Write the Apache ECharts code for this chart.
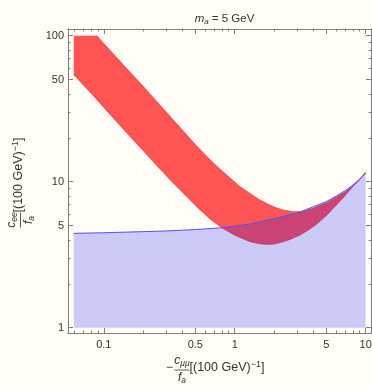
<!DOCTYPE html>
<html>
<head>
<meta charset="utf-8">
<script src="https://cdn.jsdelivr.net/npm/echarts@6/dist/echarts.min.js"></script>
<style>
html,body{margin:0;padding:0;background:#fffdf6;}
#chart{width:372px;height:387px;}
</style>
</head>
<body>
<div id="chart"></div>
<script>
// ---- data (real values, plotted on log10 scales) ----
const bandUpperX = [0.059, 0.0885, 0.1, 0.12, 0.15, 0.2, 0.25, 0.3, 0.4, 0.5, 0.6, 0.73, 0.9, 1.1, 1.31, 1.56, 1.86, 2.1, 2.35, 2.8, 3.34, 4, 5, 6, 7, 8, 9, 10];
const bandUpperY = [100, 100, 88.5, 74, 59.5, 45, 36, 30, 22.5, 18.0, 15.2, 12.75, 10.8, 9.25, 8.32, 7.5, 6.92, 6.6, 6.39, 6.23, 6.25, 6.6, 7.15, 7.85, 8.55, 9.35, 10.3, 11.7];
const bandLowerX = [0.059, 0.08, 0.1, 0.143, 0.2, 0.25, 0.321, 0.406, 0.513, 0.648, 0.796, 1.0, 1.31, 1.55, 1.75, 2.0, 2.35, 2.7, 3.15, 3.7, 4.23, 5.0, 5.66, 6.5, 7.59, 8.7, 10];
const bandLowerY = [54, 40.4, 32.3, 22.6, 16.3, 13.1, 10.3, 8.33, 6.75, 5.55, 4.84, 4.30, 3.88, 3.76, 3.72, 3.74, 3.88, 4.05, 4.31, 4.7, 5.13, 5.85, 6.58, 7.5, 8.77, 10.1, 11.5];
const boundaryX = [0.059, 0.1, 0.2, 0.3, 0.5, 0.8, 1, 1.3, 1.7, 2.3, 3, 4, 5, 6, 7, 8, 9, 10];
const boundaryY = [4.43, 4.47, 4.55, 4.6, 4.7, 4.84, 4.95, 5.12, 5.4, 5.75, 6.1, 6.75, 7.3, 8.0, 8.7, 9.5, 10.4, 11.4];
const regionFloor = 1;
const xTickLabels = [0.1, 0.5, 1, 5, 10];
const xMinorTicks = [0.06, 0.07, 0.08, 0.09, 0.2, 0.3, 0.4, 0.6, 0.7, 0.8, 0.9, 2, 3, 4, 6, 7, 8, 9];
const yTickLabels = [1, 5, 10, 50, 100];
const yMinorTicks = [2, 3, 4, 6, 7, 8, 9, 20, 30, 40, 60, 70, 80, 90];
const xRange = [0.0533, 10.99];
const yRange = [0.92, 111.2];

const L = Math.log10;
const FONT = '"Liberation Sans", Arial, Helvetica, sans-serif';
const FRAME = '#7f7f7f';
const TEXT = '#333333';

function fmt(v) { return String(+Math.pow(10, v).toPrecision(3)); }

function mkAxis(dim, pos, values, major, showLabel) {
  const range = dim === 'x' ? xRange : yRange;
  return {
    type: 'value', position: pos, gridIndex: 0,
    min: L(range[0]), max: L(range[1]),
    splitLine: { show: false },
    axisLine: { show: true, onZero: false, lineStyle: { color: FRAME, width: 1 } },
    axisTick: { show: true, inside: true, length: major ? 5 : 2.5,
      customValues: values.map(L), lineStyle: { color: FRAME, width: 1 } },
    axisLabel: { show: showLabel, customValues: values.map(L), formatter: fmt,
      color: TEXT, fontSize: 11, fontFamily: FONT, margin: dim === 'x' ? 6 : 4 }
  };
}

const pts = (api, xs, ys) => xs.map((x, i) => api.coord([L(x), L(ys[i])]));

const richG = {
  v: { fontSize: 12, fontStyle: 'italic', fontFamily: FONT, fill: TEXT, verticalAlign: 'middle', lineHeight: 15 },
  s: { fontSize: 8.5, fontStyle: 'italic', fontFamily: FONT, fill: TEXT, verticalAlign: 'bottom', lineHeight: 15 },
  n: { fontSize: 12.5, fontFamily: FONT, fill: TEXT, verticalAlign: 'middle', lineHeight: 15 },
  sup: { fontSize: 9, fontFamily: FONT, fill: TEXT, verticalAlign: 'top', lineHeight: 15 }
};

function fracLabel(cx, cy, rot, num, numSub, den, denSub, prefix) {
  const children = [
    { type: 'line', shape: { x1: -7.5, y1: 0, x2: 7.5, y2: 0 }, style: { stroke: TEXT, lineWidth: 0.8 } },
    { type: 'text', style: { x: 0, y: -1.5, text: '{v|' + num + '}{s|' + numSub + '}', rich: richG,
        align: 'center', verticalAlign: 'bottom', fill: TEXT, fontFamily: FONT } },
    { type: 'text', style: { x: 0, y: 0.5, text: '{v|' + den + '}{s|' + denSub + '}', rich: richG,
        align: 'center', verticalAlign: 'top', fill: TEXT, fontFamily: FONT } },
    { type: 'text', style: { x: 7.5, y: -2, text: '{n|[(100 GeV)}{sup|\u22121}{n|]}', rich: richG,
        align: 'left', verticalAlign: 'middle', fill: TEXT, fontFamily: FONT } }
  ];
  if (prefix) {
    children.push({ type: 'text', style: { x: -9, y: -2, text: prefix, align: 'right', verticalAlign: 'middle',
      fill: TEXT, fontSize: 12, fontFamily: FONT } });
  }
  return { type: 'group', x: cx, y: cy, rotation: rot, silent: true, children };
}

const chart = echarts.init(document.getElementById('chart'), null, { renderer: 'canvas' });
chart.setOption({
  backgroundColor: '#fffdf6',
  animation: false,
  title: {
    text: '{m|m}{a|a}{t| = 5 GeV}', left: 219.5, top: 6, textAlign: 'center',
    textStyle: { fontWeight: 'normal', rich: {
      m: { fontSize: 11.5, fontStyle: 'italic', fontWeight: 'normal', fontFamily: FONT, color: TEXT, verticalAlign: 'middle', lineHeight: 15 },
      a: { fontSize: 8, fontStyle: 'italic', fontWeight: 'normal', fontFamily: FONT, color: TEXT, verticalAlign: 'bottom', lineHeight: 15 },
      t: { fontSize: 11.5, fontWeight: 'normal', fontFamily: FONT, color: TEXT, verticalAlign: 'middle', lineHeight: 15 }
    } }
  },
  grid: { left: 68, right: 1, top: 29, bottom: 54, containLabel: false, outerBoundsMode: 'none' },
  xAxis: [
    mkAxis('x', 'bottom', xTickLabels, true, true),
    mkAxis('x', 'bottom', xMinorTicks, false, false),
    mkAxis('x', 'top', xTickLabels, true, false),
    mkAxis('x', 'top', xMinorTicks, false, false)
  ],
  yAxis: [
    mkAxis('y', 'left', yTickLabels, true, true),
    mkAxis('y', 'left', yMinorTicks, false, false),
    mkAxis('y', 'right', yTickLabels, true, false),
    mkAxis('y', 'right', yMinorTicks, false, false)
  ],
  graphic: [
    fracLabel(182, 370, 0, 'c', '\u03bc\u03bc', 'f', 'a', '\u2212'),
    fracLabel(20.5, 220, Math.PI / 2, 'c', 'ee', 'f', 'a', null)
  ],
  series: [
    {
      type: 'custom', name: 'band', xAxisIndex: 0, yAxisIndex: 0, z: 2, clip: true,
      data: [[L(bandUpperX[0]), L(bandUpperY[0])]],
      renderItem: (params, api) => {
        const up = pts(api, bandUpperX, bandUpperY);
        const lo = pts(api, bandLowerX, bandLowerY);
        return { type: 'group', children: [
          { type: 'polygon', shape: { points: up.concat(lo.slice().reverse()) },
            style: { fill: 'rgb(255,84,84)', stroke: null } },
          { type: 'polyline', shape: { points: up.slice(1) }, style: { stroke: 'rgba(235,30,40,0.7)', lineWidth: 0.8, fill: null } },
          { type: 'polyline', shape: { points: lo }, style: { stroke: 'rgba(235,30,40,0.7)', lineWidth: 0.8, fill: null } }
        ] };
      }
    },
    {
      type: 'custom', name: 'region', xAxisIndex: 0, yAxisIndex: 0, z: 3, clip: true,
      data: [[L(boundaryX[0]), L(regionFloor)]],
      renderItem: (params, api) => {
        const b = pts(api, boundaryX, boundaryY);
        const p0 = api.coord([L(boundaryX[0]), L(regionFloor)]);
        const p1 = api.coord([L(boundaryX[boundaryX.length - 1]), L(regionFloor)]);
        return { type: 'polygon', shape: { points: [p0].concat(b, [p1]) },
          style: { fill: 'rgba(0,0,255,0.2)', stroke: null } };
      }
    },
    {
      type: 'line', name: 'boundary', xAxisIndex: 0, yAxisIndex: 0, z: 4,
      showSymbol: false, symbol: 'none',
      data: boundaryX.map((x, i) => [L(x), L(boundaryY[i])]),
      lineStyle: { color: 'rgb(80,80,250)', width: 1 }
    }
  ]
});
</script>
</body>
</html>
